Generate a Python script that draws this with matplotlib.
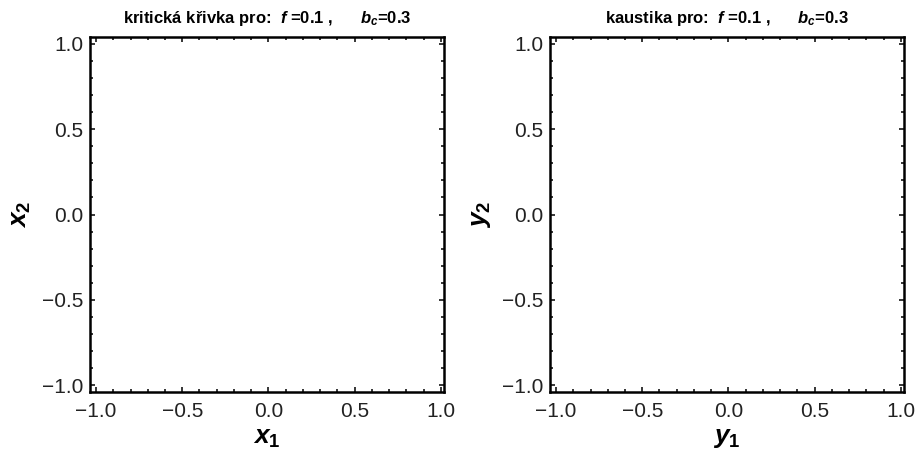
import matplotlib
matplotlib.use("Agg")
import matplotlib.pyplot as plt
import numpy as np

plt.rcParams['font.family'] = ['Liberation Sans', 'DejaVu Sans']
plt.rcParams['mathtext.fontset'] = 'custom'
plt.rcParams['mathtext.rm'] = 'Liberation Sans:bold'
plt.rcParams['mathtext.it'] = 'Liberation Sans:italic:bold'
plt.rcParams['mathtext.bf'] = 'Liberation Sans:bold'

tituly = ["kritická křivka pro:  $f$ =0.1 ,      $b_c$=0.3",
          "kaustika pro:  $f$ =0.1 ,      $b_c$=0.3"]
popisky_x = ["$x_1$", "$y_1$"]
popisky_y = ["$x_2$", "$y_2$"]
hlavni_ticky = [-1.0, -0.5, 0.0, 0.5, 1.0]
popisky_ticku = ["\u22121.0", "\u22120.5", "0.0", "0.5", "1.0"]
vedlejsi_ticky = np.arange(-1.0, 1.01, 0.1)
meze_x = (-1.035, 1.018)
meze_y = (-1.041, 1.041)

fig = plt.figure(figsize=(9.19, 4.53), dpi=100)
pozice = [[90 / 919, 1 - 392 / 453, 354 / 919, 355 / 453],
          [550 / 919, 1 - 392 / 453, 354 / 919, 355 / 453]]

for i in range(2):
    ax = fig.add_axes(pozice[i])
    ax.set_xlim(*meze_x)
    ax.set_ylim(*meze_y)
    ax.set_xticks(hlavni_ticky)
    ax.set_yticks(hlavni_ticky)
    ax.set_xticks(vedlejsi_ticky, minor=True)
    ax.set_yticks(vedlejsi_ticky, minor=True)
    ax.set_xticklabels(popisky_ticku)
    ax.set_yticklabels(popisky_ticku)
    ax.tick_params(which='both', direction='in', top=True, right=True,
                   labelsize=15, width=1.1, color='black', labelcolor='#222222')
    ax.tick_params(which='major', length=3.5)
    ax.tick_params(axis='x', which='major', pad=7)
    ax.tick_params(axis='y', which='major', pad=5)
    ax.tick_params(which='minor', length=2)
    for s in ax.spines.values():
        s.set_linewidth(1.8)
    ax.set_title(tituly[i], fontsize=12, fontweight='bold', pad=10)
    ax.set_xlabel(popisky_x[i], fontsize=19, labelpad=4)
    ax.set_ylabel(popisky_y[i], fontsize=19, labelpad=6)

fig.savefig("out.png", dpi=100)
